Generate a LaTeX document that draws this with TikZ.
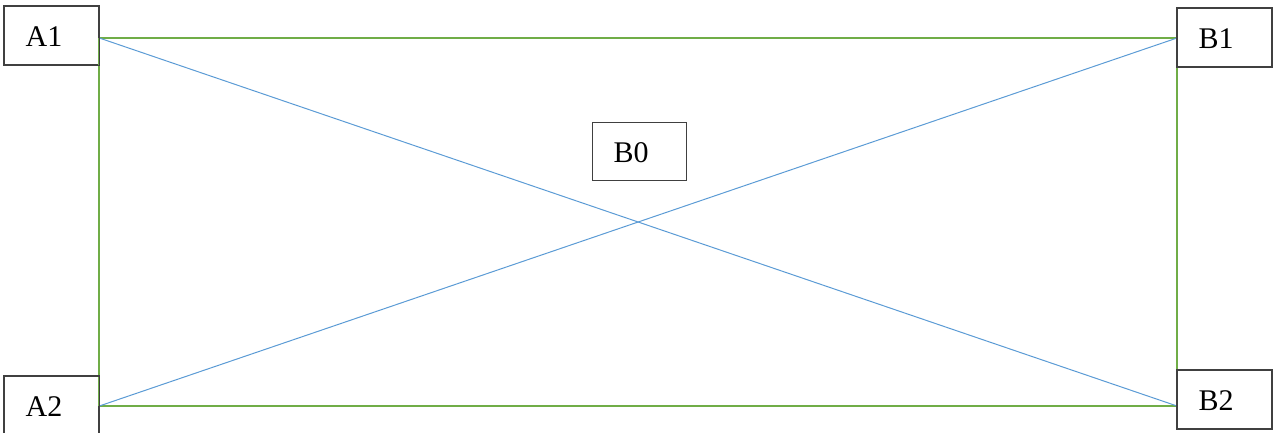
\documentclass[tikz,border=0pt]{standalone}
\usepackage{fontspec}
\setmainfont{Liberation Serif}
\definecolor{framegreen}{HTML}{70AD47}
\definecolor{crossblue}{HTML}{5B9BD5}
\definecolor{boxline}{HTML}{404040}
\begin{document}
\begin{tikzpicture}[x=1pt,y=-1pt,
  labelbox/.style={draw=boxline, line width=1.3pt, fill=white, rectangle,
    anchor=north west, minimum width=94pt, minimum height=58pt,
    text width=52pt, inner xsep=20pt, inner ysep=0pt, align=left,
    text height=22pt, text depth=0pt,
    font=\fontsize{30}{32}\selectfont},
  frame/.style={draw=framegreen, line width=2.2pt},
  cross/.style={draw=crossblue, line width=1pt}]
\useasboundingbox (0,0) rectangle (1273,432);
% label boxes
\node[labelbox] (A1) at (4,6) {A1};
\node[labelbox] (A2) at (4,376) {A2};
\node[labelbox] (B1) at (1177,8) {B1};
\node[labelbox] (B2) at (1177,370) {B2};
\node[labelbox] (B0) at (592,122) {B0};
% attachment points on the box edges
\coordinate (a1) at (A1.east |- 0,38);
\coordinate (a2) at (A2.east |- 0,406);
\coordinate (b1) at (B1.west |- 0,38);
\coordinate (b2) at (B2.west |- 0,406);
% green frame
\draw[frame] (a1) -- (b1);
\draw[frame] (a2) -- (b2);
\draw[frame] (a1) -- (a2);
\draw[frame] (b1) -- (b2);
% blue diagonals
\draw[cross] (a1) -- (b2);
\draw[cross] (a2) -- (b1);
% redraw box outlines on top of the frame ends
\foreach \n in {A1,A2,B1,B2}
  \draw[boxline, line width=1.3pt] (\n.north west) rectangle (\n.south east);
\end{tikzpicture}
\end{document}
